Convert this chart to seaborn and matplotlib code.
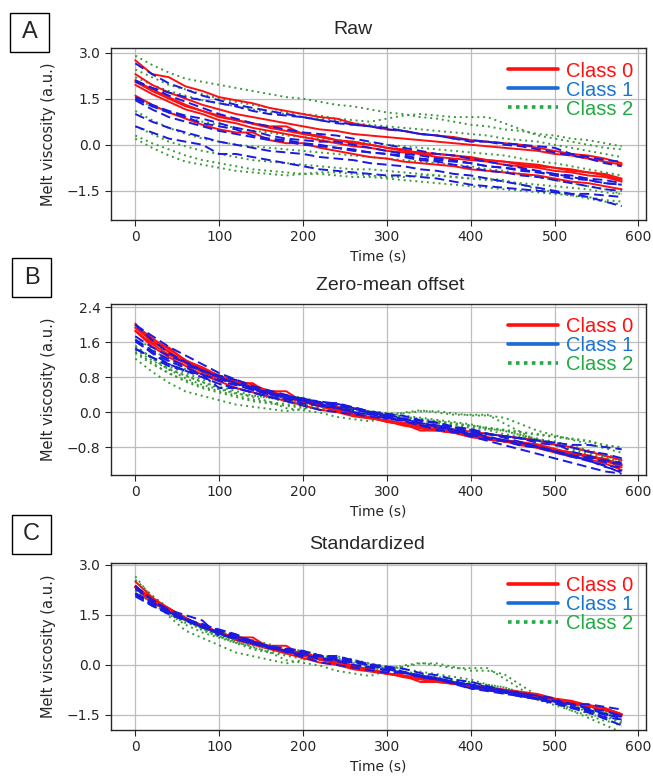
import numpy as np
import pandas as pd
import seaborn as sns
import matplotlib.pyplot as plt
from matplotlib.lines import Line2D
from matplotlib.patches import Rectangle

# time axis (s)
time = list(range(0, 600, 20))

# raw melt viscosity curves
red_curves = [
    [2.75, 2.3, 2.2, 1.9, 1.75, 1.55, 1.45, 1.35, 1.2, 1.1,
     1.0, 0.9, 0.85, 0.7, 0.6, 0.5, 0.45, 0.35, 0.3, 0.25,
     0.15, 0.1, 0.05, 0.0, -0.1, -0.2, -0.3, -0.35, -0.45, -0.6],
    [2.1, 1.8, 1.55, 1.3, 1.1, 0.95, 0.8, 0.68, 0.55, 0.45,
     0.35, 0.25, 0.15, 0.05, 0.0, -0.1, -0.2, -0.25, -0.3, -0.35,
     -0.45, -0.5, -0.55, -0.65, -0.7, -0.75, -0.85, -0.9, -1.0, -1.15],
    [2.05, 1.75, 1.5, 1.25, 1.1, 0.9, 0.8, 0.7, 0.6, 0.6,
     0.35, 0.3, 0.15, 0.1, 0.0, -0.1, -0.15, -0.3, -0.3, -0.35,
     -0.4, -0.5, -0.55, -0.6, -0.65, -0.75, -0.8, -0.9, -0.95, -1.1],
    [1.95, 1.65, 1.4, 1.15, 1.0, 0.8, 0.7, 0.55, 0.45, 0.35,
     0.25, 0.15, 0.05, -0.05, -0.1, -0.2, -0.25, -0.3, -0.4, -0.45,
     -0.5, -0.55, -0.65, -0.7, -0.75, -0.85, -0.9, -1.0, -1.05, -1.2],
    [1.6, 1.3, 1.05, 0.85, 0.65, 0.5, 0.4, 0.4, 0.15, 0.05,
     0.05, -0.1, -0.2, -0.3, -0.4, -0.45, -0.55, -0.6, -0.65, -0.7,
     -0.8, -0.85, -0.9, -0.95, -1.0, -1.1, -1.2, -1.25, -1.35, -1.45],
    [2.3, 1.95, 1.7, 1.5, 1.3, 1.15, 1.0, 0.9, 0.8, 0.7,
     0.6, 0.5, 0.45, 0.35, 0.3, 0.25, 0.2, 0.15, 0.1, 0.05,
     0.0, -0.05, -0.1, -0.15, -0.2, -0.3, -0.35, -0.45, -0.55, -0.65],
]

blue_curves = [
    [2.65, 2.3, 2.0, 1.8, 1.6, 1.45, 1.3, 1.2, 1.1, 1.0,
     0.9, 0.8, 0.75, 0.65, 0.6, 0.5, 0.45, 0.35, 0.3, 0.2,
     0.15, 0.1, 0.0, -0.05, -0.15, -0.25, -0.35, -0.45, -0.6, -0.7],
    [2.1, 1.85, 1.6, 1.4, 1.2, 1.0, 0.85, 0.7, 0.6, 0.5,
     0.4, 0.35, 0.3, 0.2, 0.1, 0.0, -0.1, -0.2, -0.3, -0.35,
     -0.45, -0.55, -0.65, -0.75, -0.85, -0.95, -1.05, -1.15, -1.25, -1.3],
    [1.55, 1.3, 1.1, 0.95, 0.85, 0.7, 0.55, 0.45, 0.3, 0.2,
     0.15, 0.1, 0.1, 0.0, -0.1, -0.2, -0.3, -0.35, -0.45, -0.5,
     -0.6, -0.7, -0.75, -0.85, -0.9, -1.0, -1.1, -1.15, -1.25, -1.3],
    [1.5, 1.25, 1.05, 0.9, 0.7, 0.6, 0.5, 0.3, 0.2, 0.15,
     0.05, 0.0, -0.1, -0.15, -0.25, -0.3, -0.4, -0.5, -0.55, -0.65,
     -0.75, -0.85, -0.9, -1.0, -1.05, -1.15, -1.25, -1.35, -1.45, -1.5],
    [1.0, 0.75, 0.55, 0.4, 0.25, 0.1, 0.0, -0.1, -0.2, -0.25,
     -0.3, -0.4, -0.45, -0.5, -0.6, -0.65, -0.7, -0.8, -0.85, -0.95,
     -1.0, -1.1, -1.2, -1.3, -1.4, -1.5, -1.6, -1.7, -1.85, -2.0],
    [0.6, 0.4, 0.2, 0.1, 0.0, -0.3, -0.3, -0.4, -0.5, -0.6,
     -0.7, -0.8, -0.85, -0.9, -0.95, -1.0, -1.0, -1.05, -1.1, -1.2,
     -1.3, -1.35, -1.4, -1.45, -1.5, -1.55, -1.6, -1.6, -1.65, -1.7],
    [1.45, 1.15, 0.9, 0.75, 0.6, 0.45, 0.35, 0.25, 0.15, 0.1,
     0.0, -0.05, -0.1, -0.2, -0.25, -0.3, -0.35, -0.45, -0.5, -0.55,
     -0.6, -0.7, -0.75, -0.8, -0.9, -0.95, -1.0, -1.1, -1.15, -1.25],
    [2.05, 1.85, 1.7, 1.55, 1.45, 1.35, 1.25, 1.1, 1.0, 0.95,
     0.9, 0.8, 0.7, 0.65, 0.6, 0.55, 0.45, 0.35, 0.3, 0.2,
     0.1, 0.1, 0.05, 0.0, -0.05, -0.1, -0.3, -0.4, -0.5, -0.55],
]

green_curves = [
    [2.9, 2.6, 2.35, 2.15, 2.05, 1.95, 1.85, 1.75, 1.65, 1.55,
     1.5, 1.4, 1.3, 1.25, 1.15, 1.05, 1.0, 0.9, 0.85, 0.75,
     0.65, 0.6, 0.5, 0.45, 0.35, 0.3, 0.2, 0.15, 0.05, -0.05],
    [2.45, 2.2, 1.95, 1.8, 1.65, 1.5, 1.4, 1.3, 1.2, 1.05,
     1.0, 0.95, 0.85, 0.8, 0.75, 0.85, 0.95, 1.0, 0.95, 0.9,
     0.9, 0.9, 0.7, 0.5, 0.3, 0.2, 0.1, 0.0, -0.1, -0.15],
    [2.2, 1.95, 1.75, 1.6, 1.45, 1.35, 1.25, 1.15, 1.05, 1.0,
     0.9, 0.85, 0.8, 0.7, 0.65, 0.6, 0.55, 0.5, 0.45, 0.4,
     0.35, 0.3, 0.2, 0.15, 0.1, 0.0, -0.1, -0.2, -0.3, -0.4],
    [1.5, 1.25, 1.05, 0.9, 0.75, 0.65, 0.55, 0.45, 0.4, 0.3,
     0.25, 0.2, 0.15, 0.1, 0.05, 0.0, -0.05, -0.1, -0.15, -0.2,
     -0.25, -0.3, -0.35, -0.45, -0.55, -0.6, -0.7, -0.8, -0.9, -1.0],
    [0.6, 0.35, 0.1, -0.05, -0.2, -0.3, -0.4, -0.5, -0.55, -0.6,
     -0.65, -0.7, -0.75, -0.8, -0.8, -0.85, -0.9, -0.95, -1.0, -1.05,
     -1.1, -1.15, -1.2, -1.25, -1.3, -1.35, -1.4, -1.45, -1.55, -1.6],
    [0.3, 0.05, -0.15, -0.35, -0.5, -0.6, -0.7, -0.8, -0.85, -0.9,
     -0.95, -0.95, -1.0, -1.05, -1.05, -1.1, -1.15, -1.2, -1.25, -1.3,
     -1.35, -1.4, -1.45, -1.5, -1.55, -1.6, -1.65, -1.7, -1.8, -1.85],
    [0.2, -0.1, -0.35, -0.55, -0.65, -0.75, -0.85, -0.9, -0.95, -1.0,
     -0.95, -0.9, -0.9, -0.95, -1.0, -1.05, -1.05, -1.0, -1.0, -1.05,
     -1.1, -1.1, -1.15, -1.3, -1.45, -1.55, -1.65, -1.75, -1.85, -1.95],
    [1.1, 0.8, 0.55, 0.35, 0.2, 0.1, 0.0, -0.05, -0.1, -0.15,
     -0.2, -0.25, -0.3, -0.35, -0.4, -0.45, -0.5, -0.55, -0.6, -0.65,
     -0.7, -0.8, -0.85, -0.95, -1.05, -1.15, -1.25, -1.35, -1.45, -1.6],
]

panel_titles = ["Raw", "Zero-mean offset", "Standardized"]
panel_letters = ["A", "B", "C"]
class_labels = ["Class 0", "Class 1", "Class 2"]

# build long frame, one row per point
rows = []
for cls, curves in [("Class 0", red_curves), ("Class 1", blue_curves), ("Class 2", green_curves)]:
    for i, vals in enumerate(curves):
        d = pd.DataFrame({"time": time, "raw": vals})
        d["cls"] = cls
        d["curve"] = f"{cls}_{i}"
        rows.append(d)
df = pd.concat(rows, ignore_index=True)

# the two transforms shown in panels B and C
g = df.groupby("curve")["raw"]
df["offset"] = df["raw"] - g.transform("mean")
df["std"] = df["offset"] / g.transform(lambda s: s.std(ddof=0))

sns.set_style("ticks")
plt.rcParams["font.family"] = ["DejaVu Sans"]

fig = plt.figure(figsize=(6.53, 7.76), dpi=100)
W, H = 653, 776
boxes = [(48, 220), (304, 475), (563, 730)]
letter_boxes = [(10, 13), (12, 258), (12, 515)]
title_x = [353, 390, 367]
ylims = [(-2.45, 3.15), (-1.44, 2.47), (-1.95, 3.05)]
yticks = [[-1.5, 0.0, 1.5, 3.0], [-0.8, 0.0, 0.8, 1.6, 2.4], [-1.5, 0.0, 1.5, 3.0]]
cols = ["raw", "offset", "std"]

styles = {
    "Class 2": dict(color="#3a9a3a", linestyle=(0, (1, 2))),
    "Class 0": dict(color="#ff1010", linestyle="-"),
    "Class 1": dict(color="#1a1ae0", linestyle=(0, (5, 2.5))),
}

for k in range(3):
    top, bot = boxes[k]
    ax = fig.add_axes([111 / W, 1 - bot / H, 535 / W, (bot - top) / H])
    for cls in ["Class 2", "Class 0", "Class 1"]:
        sub = df[df["cls"] == cls]
        sns.lineplot(data=sub, x="time", y=cols[k], units="curve", estimator=None,
                     ax=ax, lw=1.4, legend=False, **styles[cls])
    ax.set_xlim(-29, 609)
    ax.set_ylim(*ylims[k])
    ax.set_yticks(yticks[k])
    ax.set_xticks([0, 100, 200, 300, 400, 500, 600])
    ax.grid(True, color="#bdbdbd", lw=0.9)
    ax.set_axisbelow(True)
    ax.tick_params(labelsize=10, length=4)
    ax.set_xlabel("Time (s)", fontsize=10)
    ax.set_ylabel("Melt viscosity (a.u.)", fontsize=10.5, labelpad=8)
    ax.set_title(panel_titles[k], fontsize=14, pad=10, family="Liberation Sans",
                 x=(title_x[k] - 111) / 535)
    for s in ax.spines.values():
        s.set_linewidth(1.0)

    handles = [
        Line2D([], [], color="#ff1010", lw=2.6),
        Line2D([], [], color="#1a6ad8", lw=2.6),
        Line2D([], [], color="#22aa44", lw=2.6, linestyle=(0, (1, 1.2))),
    ]
    leg = ax.legend(handles, class_labels, loc="upper right", frameon=False,
                    prop={"family": "Liberation Sans", "size": 14.5},
                    handlelength=2.5, handletextpad=0.4, labelspacing=0.0,
                    borderaxespad=0.1, bbox_to_anchor=(0.995, 0.98))
    for t, c in zip(leg.get_texts(), ["#ff1010", "#1a75d2", "#22aa44"]):
        t.set_color(c)

    lx, ly = letter_boxes[k]
    fig.patches.append(Rectangle((lx / W, 1 - (ly + 39) / H), 39 / W, 39 / H,
                                 transform=fig.transFigure, fill=False, ec="black", lw=1.0))
    fig.text((lx + 19.5) / W, 1 - (ly + 19.5) / H, panel_letters[k], ha="center", va="center",
             fontsize=17, family="Liberation Sans")

fig.savefig("out.png", dpi=100)
